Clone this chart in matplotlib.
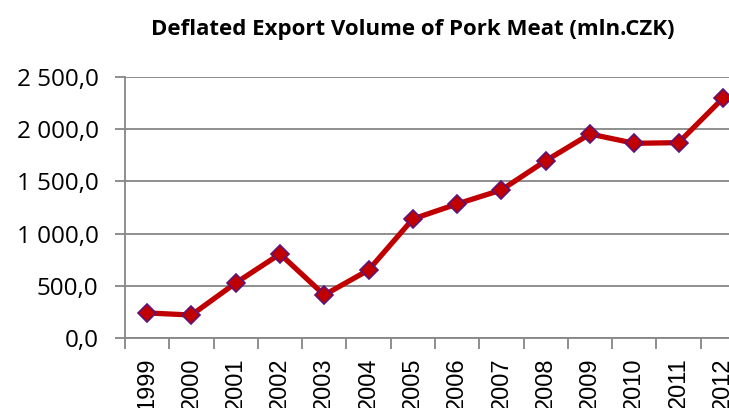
import matplotlib
matplotlib.use("Agg")
import matplotlib.pyplot as plt
from matplotlib.ticker import FuncFormatter, FixedLocator

# Deflated export volume of pork meat, mln. CZK
years = ['1999', '2000', '2001', '2002', '2003', '2004', '2005',
         '2006', '2007', '2008', '2009', '2010', '2011', '2012']
volume = [240, 220, 527, 805, 412, 651, 1140,
          1284, 1418, 1698, 1954, 1865, 1871, 2296]

line_red = '#C00000'
edge_purple = '#5E1478'
grid_grey = '#868686'


def cz_fmt(v, pos):
    s = '{:,.1f}'.format(v)
    return s.replace(',', ' ').replace('.', ',')


fig = plt.figure(figsize=(7.29, 4.08), dpi=100)
ax = fig.add_axes([125 / 729, 1 - 338 / 408, 620 / 729, 261 / 408])

x = list(range(len(years)))
ax.plot(x, volume, color=line_red, lw=3.8, marker='D', ms=9.5,
        mfc=line_red, mec=edge_purple, mew=1.2, zorder=3, clip_on=False)

ax.set_ylim(0, 2500)
ax.set_xlim(-0.5, len(years) - 0.5)
ax.set_yticks([0, 500, 1000, 1500, 2000, 2500])
ax.yaxis.set_major_formatter(FuncFormatter(cz_fmt))
ax.grid(axis='y', color=grid_grey, lw=1.3)
ax.set_axisbelow(True)

# category labels centred, tick marks between categories
ax.set_xticks(x)
ax.set_xticklabels(years, rotation=90, fontsize=17, family='Liberation Sans', va='top')
ax.tick_params(axis='x', which='major', length=0, pad=14)
ax.xaxis.set_minor_locator(FixedLocator([i - 0.5 for i in range(len(years) + 1)]))
ax.tick_params(axis='x', which='minor', length=8, width=1.3, color=grid_grey)
ax.tick_params(axis='y', length=7, width=1.3, color=grid_grey, pad=12)
for lab in ax.get_yticklabels():
    lab.set_fontsize(17.5)
    lab.set_family('Open Sans')

for side in ['top', 'right']:
    ax.spines[side].set_visible(False)
for side in ['left', 'bottom']:
    ax.spines[side].set_color(grid_grey)
    ax.spines[side].set_linewidth(1.3)

fig.text(413 / 729, 1 - 30 / 408, 'Deflated Export Volume of Pork Meat (mln.CZK)',
         ha='center', va='center', fontsize=16, fontweight='bold', family='Open Sans')

fig.savefig('out.png', dpi=100)
